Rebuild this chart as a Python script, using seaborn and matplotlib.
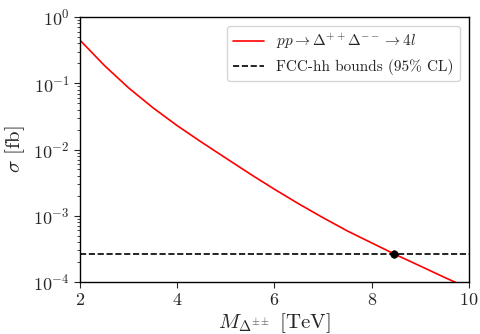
import matplotlib
matplotlib.use("Agg")
import matplotlib.pyplot as plt
import seaborn as sns
import pandas as pd

mass_tev = [2.0, 2.5, 3.0, 3.5, 4.0, 4.5, 5.0, 5.5, 6.0, 6.5, 7.0, 7.5, 8.0, 8.5, 9.0, 9.5, 9.8]
sigma_fb = [0.447, 0.186, 0.0851, 0.0427, 0.0229, 0.0129, 0.00741, 0.00427, 0.00251,
            0.00151, 0.000933, 0.000589, 0.000389, 0.000257, 0.000174, 0.000117, 0.0000933]
bound_fb = 2.67e-4
cross_mass = 8.45
curve_label = r"$pp \to \Delta^{++}\Delta^{--} \to 4l$"
bound_label = "FCC-hh bounds (95% CL)"

sns.set_style("ticks")
plt.rcParams["font.family"] = ["cmr10", "DejaVu Serif"]
plt.rcParams["mathtext.fontset"] = "cm"
plt.rcParams["axes.formatter.use_mathtext"] = True
plt.rcParams["axes.unicode_minus"] = False

df = pd.DataFrame({"M": mass_tev, "sigma": sigma_fb})

fig = plt.figure(figsize=(4.8, 3.34), dpi=100)
ax = fig.add_axes([0.1667, 0.1557, 0.8103, 0.7933])

sns.lineplot(data=df, x="M", y="sigma", color="red", lw=1.2, ax=ax, label=curve_label)
ax.axhline(bound_fb, color="black", ls="--", lw=1.2, label=bound_label)
sns.scatterplot(x=[cross_mass], y=[bound_fb], color="black", s=30, ax=ax, zorder=5, edgecolor="black")

ax.set_yscale("log")
ax.set_xlim(2, 10)
ax.set_ylim(1e-4, 1)
ax.set_xticks([2, 4, 6, 8, 10])
ax.tick_params(labelsize=13, direction="out", length=4, width=0.8)
ax.tick_params(which="minor", length=2, width=0.6)
ax.set_xlabel(r"$M_{\Delta^{\pm\pm}}$ [TeV]", fontsize=15, labelpad=2)
ax.set_ylabel(r"$\sigma$ [fb]", fontsize=15, labelpad=4)
for s in ax.spines.values():
    s.set_color("black")
    s.set_linewidth(1.0)

leg = ax.legend(loc="upper right", fontsize=11, frameon=True, fancybox=True,
                handlelength=2.0, borderaxespad=0.6)
leg.get_frame().set_edgecolor("#cccccc")

fig.savefig("out.png", dpi=100)
